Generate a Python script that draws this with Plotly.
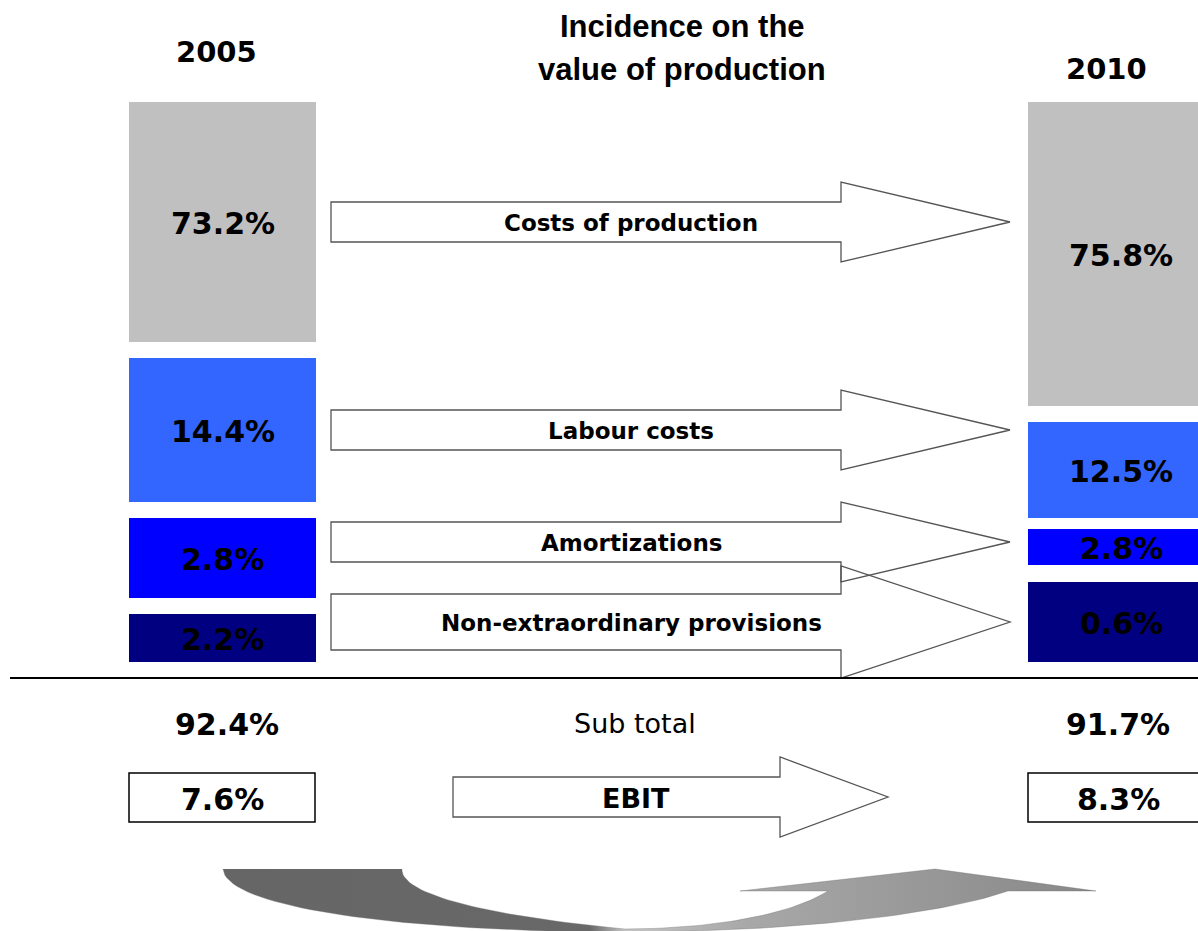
import numpy as np
import plotly.graph_objects as go

# ---------------- data ----------------
categories = ["Costs of production", "Labour costs", "Amortizations", "Non-extraordinary provisions"]
values_2005 = [73.2, 14.4, 2.8, 2.2]
values_2010 = [75.8, 12.5, 2.8, 0.6]
subtotal_label = "Sub total"
subtotal_2005 = 92.4
subtotal_2010 = 91.7
ebit_label = "EBIT"
ebit_2005 = 7.6
ebit_2010 = 8.3
years = ["2005", "2010"]
title_lines = ["Incidence on the", "value of production"]

# ---------------- layout / style ----------------
W, H = 1198, 931
cat_colors = ["#C0C0C0", "#3366FF", "#0000FF", "#000080"]
box_y_2005 = [(102, 342), (358, 502), (518, 598), (614, 662)]
box_y_2010 = [(102, 406), (422, 518), (529, 565), (582, 662)]
left_x = (129, 316)
right_x = (1028, 1214)
arrow_mid = [222, 430, 542, 622]
arrow_body_half = [20, 20, 20, 28]
arrow_head_half = [40, 40, 40, 56]
arrow_x = (331, 841, 1010)  # start, head base, tip
ebit_arrow = dict(x=(453, 780, 888), mid=797, body=20, head=40)
pct_font = dict(family="DejaVu Sans, Verdana, sans-serif", size=30, color="black")
lab_font = dict(family="DejaVu Sans, Verdana, sans-serif", size=23, color="black")
outline = "#555555"

fig = go.Figure()
shapes = []
annotations = []


def fmt(v):
    return f"{v:.1f}%"


def arrow_path(x0, xh, xt, ym, bh, hh):
    pts = [(x0, ym - bh), (xh, ym - bh), (xh, ym - hh), (xt, ym),
           (xh, ym + hh), (xh, ym + bh), (x0, ym + bh)]
    return "M " + " L ".join(f"{x},{y}" for x, y in pts) + " Z"


# boxes
for i, cat in enumerate(categories):
    for (bx, by, val) in [(left_x, box_y_2005[i], values_2005[i]),
                          (right_x, box_y_2010[i], values_2010[i])]:
        shapes.append(dict(type="rect", xref="x", yref="y", x0=bx[0], x1=bx[1],
                           y0=by[0], y1=by[1], fillcolor=cat_colors[i],
                           line=dict(width=0), layer="below"))
        annotations.append(dict(x=(bx[0] + bx[1]) / 2, y=(by[0] + by[1]) / 2 + 1,
                                text=f"<b>{fmt(val)}</b>", showarrow=False,
                                font=pct_font, xanchor="center", yanchor="middle"))

# arrows: fills first, then outlines (so overlapping outlines stay visible)
paths = [arrow_path(arrow_x[0], arrow_x[1], arrow_x[2], arrow_mid[i],
                    arrow_body_half[i], arrow_head_half[i]) for i in range(len(categories))]
for p in paths:
    shapes.append(dict(type="path", path=p, xref="x", yref="y",
                       fillcolor="white", line=dict(width=0)))
for p in paths:
    shapes.append(dict(type="path", path=p, xref="x", yref="y",
                       fillcolor="rgba(0,0,0,0)", line=dict(color=outline, width=1.3)))
for i, cat in enumerate(categories):
    annotations.append(dict(x=631, y=arrow_mid[i] + 1, text=f"<b>{cat}</b>",
                            showarrow=False, font=lab_font, xanchor="center",
                            yanchor="middle"))

# separator line
shapes.append(dict(type="line", xref="x", yref="y", x0=10, x1=W + 5, y0=678, y1=678,
                   line=dict(color="black", width=2)))

# subtotal row
annotations.append(dict(x=227, y=724, text=f"<b>{fmt(subtotal_2005)}</b>", showarrow=False,
                        font=pct_font, yanchor="middle"))
annotations.append(dict(x=1118, y=724, text=f"<b>{fmt(subtotal_2010)}</b>", showarrow=False,
                        font=pct_font, yanchor="middle"))
annotations.append(dict(x=635, y=723, text=subtotal_label, showarrow=False,
                        font=dict(family="DejaVu Sans, Verdana, sans-serif", size=27,
                                  color="black"), yanchor="middle"))

# EBIT row
for bx, val, cx in [((129, 315), ebit_2005, 222), ((1028, 1210), ebit_2010, 1118)]:
    shapes.append(dict(type="rect", xref="x", yref="y", x0=bx[0], x1=bx[1], y0=773, y1=822,
                       fillcolor="white", line=dict(color="black", width=1.5)))
    annotations.append(dict(x=cx, y=799, text=f"<b>{fmt(val)}</b>", showarrow=False,
                            font=pct_font, yanchor="middle"))
ep = arrow_path(ebit_arrow["x"][0], ebit_arrow["x"][1], ebit_arrow["x"][2],
                ebit_arrow["mid"], ebit_arrow["body"], ebit_arrow["head"])
shapes.append(dict(type="path", path=ep, xref="x", yref="y", fillcolor="white",
                   line=dict(color=outline, width=1.3)))
annotations.append(dict(x=636, y=798, text=f"<b>{ebit_label}</b>", showarrow=False,
                        font=dict(family="DejaVu Sans, Verdana, sans-serif", size=27,
                                  color="black"), yanchor="middle"))

# headers
annotations.append(dict(x=216, y=52, text=f"<b>{years[0]}</b>", showarrow=False,
                        font=dict(family="DejaVu Sans, Verdana, sans-serif", size=29,
                                  color="black"), yanchor="middle"))
annotations.append(dict(x=1106, y=69, text=f"<b>{years[1]}</b>", showarrow=False,
                        font=dict(family="DejaVu Sans, Verdana, sans-serif", size=29,
                                  color="black"), yanchor="middle"))
for k, line in enumerate(title_lines):
    annotations.append(dict(x=682, y=26 + 43 * k, text=f"<b>{line}</b>", showarrow=False,
                            font=dict(family="Liberation Sans, Arial, sans-serif", size=31,
                                      color="black"), yanchor="middle"))


# decorative swoosh arrow at the bottom
def bez(p0, p1, p2, p3, n=40):
    t = np.linspace(0, 1, n)[:, None]
    P = [np.array(p) for p in (p0, p1, p2, p3)]
    return ((1 - t) ** 3) * P[0] + 3 * ((1 - t) ** 2) * t * P[1] + 3 * (1 - t) * t ** 2 * P[2] + t ** 3 * P[3]


seg = [
    bez((223, 869), (226, 910), (420, 932), (625, 932)),
    bez((625, 932), (790, 932), (940, 915), (1008, 891)),
    np.array([(1096, 891), (935, 869), (740, 891), (828, 891)]),
    bez((828, 891), (785, 918), (700, 929), (625, 929)),
    bez((625, 929), (490, 916), (400, 895), (402, 869)),
]
sw = np.vstack(seg)
fig.add_trace(go.Scatter(
    x=sw[:, 0], y=sw[:, 1], mode="lines", fill="toself",
    line=dict(color="rgba(110,110,110,0.6)", width=0.6),
    fillgradient=dict(type="horizontal", start=223, stop=1096,
                      colorscale=[[0, "#666666"], [0.42, "#686868"], [0.46, "#C4C4C4"],
                                  [0.6, "#A8A8A8"], [1, "#888888"]]),
    hoverinfo="skip", showlegend=False))

fig.update_layout(
    width=W, height=H, margin=dict(l=0, r=0, t=0, b=0),
    paper_bgcolor="white", plot_bgcolor="white",
    xaxis=dict(range=[0, W], visible=False, fixedrange=True),
    yaxis=dict(range=[H, 0], visible=False, fixedrange=True),
    shapes=shapes, annotations=annotations, showlegend=False,
)
fig.write_html(
    "out.html",
    config={"displayModeBar": False, "staticPlot": True},
    post_script="document.body.style.margin='0';document.body.style.overflow='hidden';",
)
